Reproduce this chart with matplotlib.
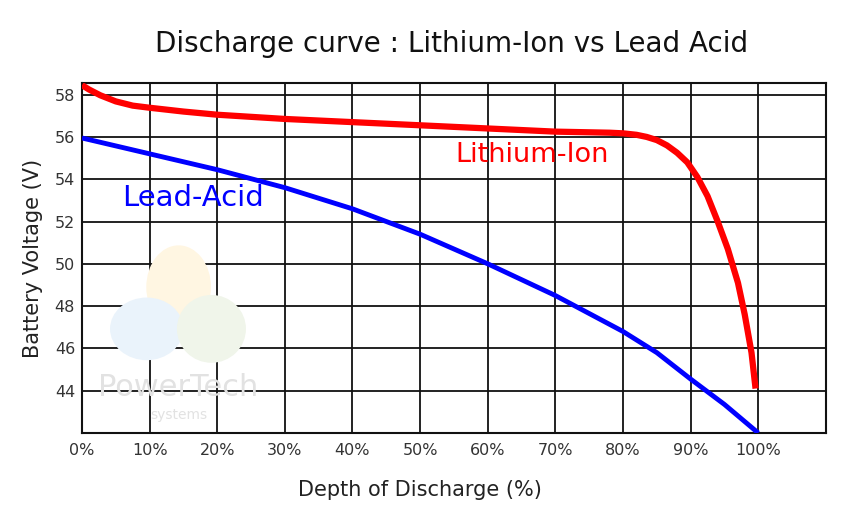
import matplotlib.pyplot as plt
from matplotlib.patches import Ellipse

plt.rcParams['font.family'] = ['DejaVu Sans']

# depth of discharge (%) and voltage (V)
dod_li = [0, 1, 2.7, 5, 7.5, 10, 15, 20, 30, 40, 50, 60, 70, 78, 80, 82, 83.5, 85, 86.5, 88, 89.5,
          91, 92.5, 94, 95.5, 97, 98, 99, 99.6]
volt_li = [58.45, 58.25, 57.97, 57.68, 57.48, 57.38, 57.2, 57.05, 56.85, 56.7, 56.55, 56.4, 56.25,
           56.2, 56.17, 56.1, 56.0, 55.85, 55.6, 55.25, 54.8, 54.1, 53.2, 52.0, 50.7, 49.1, 47.6, 45.8, 44.1]

dod_la = [0, 10, 20, 30, 40, 50, 60, 70, 80, 85, 90, 95, 100]
volt_la = [55.95, 55.2, 54.45, 53.6, 52.6, 51.4, 50.0, 48.5, 46.8, 45.8, 44.55, 43.35, 42.0]

x_ticks = list(range(0, 101, 10))
x_labels = [f'{t}%' for t in x_ticks]
y_ticks = list(range(44, 59, 2))

fig = plt.figure(figsize=(8.63, 5.22), dpi=100)
ax = fig.add_axes([0.095, 0.1705, 0.862, 0.6705])

# faint logo watermark
for (cx, cy, w, h, c) in [(0.207, 0.45, 0.075, 0.16, '#fff6e2'),
                          (0.17, 0.37, 0.085, 0.12, '#eaf3fb'),
                          (0.245, 0.37, 0.08, 0.13, '#f0f5ea')]:
    fig.patches.append(Ellipse((cx, cy), w, h, transform=fig.transFigure,
                               facecolor=c, edgecolor='none', zorder=0))
fig.text(0.207, 0.258, 'PowerTech', fontsize=22, color='#e2e2e2', ha='center', va='center', zorder=0)
fig.text(0.207, 0.205, 'systems', fontsize=10, color='#e2e2e2', ha='center', va='center', zorder=0)
ax.patch.set_alpha(0)

ax.plot(dod_li, volt_li, color='#ff0000', lw=4.5, solid_capstyle='butt', zorder=3)
ax.plot(dod_la, volt_la, color='#0000ff', lw=3.5, solid_capstyle='butt', zorder=3)

ax.set_xlim(0, 110)
ax.set_ylim(42, 58.55)
ax.set_xticks(x_ticks)
ax.set_xticklabels(x_labels)
ax.set_yticks(y_ticks)
ax.tick_params(length=0, labelsize=11.5, colors='#333333')
ax.tick_params(axis='x', pad=7)
ax.tick_params(axis='y', pad=5)
ax.grid(True, color='#111111', lw=1.3)
ax.set_axisbelow(True)
for s in ax.spines.values():
    s.set_color('#111111')
    s.set_linewidth(1.5)

ax.text(55.2, 55.14, 'Lithium-Ion', color='#ff0000', fontsize=19.5, va='center')
ax.text(5.9, 53.1, 'Lead-Acid', color='#0000ff', fontsize=21, va='center')

fig.text(0.523, 0.915, 'Discharge curve : Lithium-Ion vs Lead Acid', fontsize=20,
         ha='center', va='center', color='#111111')
ax.set_xlabel('Depth of Discharge (%)', fontsize=15, color='#222222')
ax.xaxis.set_label_coords(50 / 110, -0.134)
ax.set_ylabel('Battery Voltage (V)', fontsize=15, color='#222222')
ax.yaxis.set_label_coords(-0.052, 0.5)

fig.savefig('out.png', dpi=100, facecolor='white')
